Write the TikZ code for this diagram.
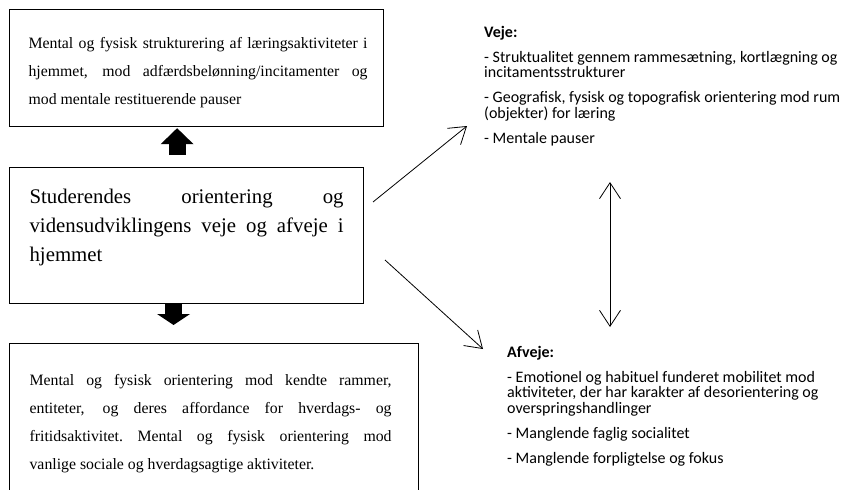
\documentclass[tikz,border=0pt]{standalone}
\usepackage{fontspec}
\setmainfont{Liberation Serif}
\newfontfamily\calfont{Carlito}
\usetikzlibrary{arrows.meta}

\tikzset{
  textbox/.style={draw, line width=1.2pt, inner sep=0pt, anchor=north west},
  blockarrow/.style={line width=17pt, line cap=butt,
    -{Triangle[width=33pt, length=#1, line width=0pt]}},
  thinarrow/.style={line width=0.8pt,
    -{Straight Barb[length=16pt, width=21pt, line width=0.8pt]}},
  twoway/.style={line width=0.8pt,
    {Straight Barb[length=16pt, width=21pt, line width=0.8pt]}-{Straight Barb[length=16pt, width=21pt, line width=0.8pt]}},
  notes/.style={font=\calfont\fontsize{16}{15.5}\selectfont, align=left,
    inner sep=0pt, anchor=north west},
}

% a fully justified line: the spaces share the extra width
\newcommand{\jline}[2]{\hbox to #1{\spaceskip=0.25em plus 1fil\xspaceskip=\spaceskip #2}}
% one row of a box: full width, left margin, then content
\newcommand{\boxrow}[3]{\hbox to #1{\hskip#2\relax #3\hss}}

\begin{document}
\begin{tikzpicture}[x=1pt, y=-1pt]
  \useasboundingbox (0,0) rectangle (844,490);

  % three stacked boxes on the left
  \node[textbox, font=\fontsize{15.8}{28}\selectfont] (top) at (9,9) {\vbox{\baselineskip=28pt
      \boxrow{374pt}{19pt}{\vrule width0pt height39pt\jline{339pt}{Mental og fysisk strukturering af læringsaktiviteter i}}
      \boxrow{374pt}{19pt}{\jline{339pt}{hjemmet, mod adfærdsbelønning/incitamenter og}}
      \boxrow{374pt}{19pt}{mod mentale restituerende pauser\vrule width0pt depth22pt}}};

  \node[textbox, font=\fontsize{20.8}{29}\selectfont] (main) at (9,167) {\vbox{\baselineskip=29pt
      \boxrow{354pt}{20pt}{\vrule width0pt height36pt\jline{314pt}{Studerendes orientering og}}
      \boxrow{354pt}{20pt}{\jline{314pt}{vidensudviklingens veje og afveje i}}
      \boxrow{354pt}{20pt}{hjemmet\vrule width0pt depth42pt}}};

  \node[textbox, font=\fontsize{15.8}{28}\selectfont] (bottom) at (9,343) {\vbox{\baselineskip=28pt
      \boxrow{409pt}{20pt}{\vrule width0pt height42pt\jline{362pt}{Mental og fysisk orientering mod kendte rammer,}}
      \boxrow{409pt}{20pt}{\jline{362pt}{entiteter, og deres affordance for hverdags- og}}
      \boxrow{409pt}{20pt}{\jline{362pt}{fritidsaktivitet. Mental og fysisk orientering mod}}
      \boxrow{409pt}{20pt}{vanlige sociale og hverdagsagtige aktiviteter.\vrule width0pt depth40pt}}};

  % block arrows between the boxes
  \draw[blockarrow=16pt, shorten <=12pt, shorten >=1pt]
    ([xshift=-9.5pt]main.north) -- ([xshift=-19.5pt]top.south);
  \draw[blockarrow=11pt, shorten >=18pt]
    ([xshift=-13pt]main.south) -- ([xshift=-40.5pt]bottom.north);

  % notes on the right
  \node[notes] (veje) at (484,25) {\rule{0pt}{12pt}\textbf{Veje:}\\[9.5pt]
    - Struktualitet gennem rammesætning, kortlægning og\\
    incitamentsstrukturer\\[9.5pt]
    - Geografisk, fysisk og topografisk orientering mod rum\\
    (objekter) for læring\\[9.5pt]
    - Mentale pauser};

  \node[notes] (afveje) at (507,345) {\rule{0pt}{12pt}\textbf{Afveje:}\\[9.5pt]
    - Emotionel og habituel funderet mobilitet mod\\
    aktiviteter, der har karakter af desorientering og\\
    overspringshandlinger\\[9.5pt]
    - Manglende faglig socialitet\\[9.5pt]
    - Manglende forpligtelse og fokus};

  % thin connectors
  \coordinate (upstart) at (373,202);
  \coordinate (upend) at (467,126);
  \coordinate (downstart) at (385,260);
  \coordinate (downend) at (483,349);
  \coordinate (pairtop) at (610,182);
  \coordinate (pairbot) at (610,327);
  \draw[thinarrow] (upstart) -- (upend);
  \draw[thinarrow] (downstart) -- (downend);
  \draw[twoway] (pairtop) -- (pairbot);
\end{tikzpicture}
\end{document}
